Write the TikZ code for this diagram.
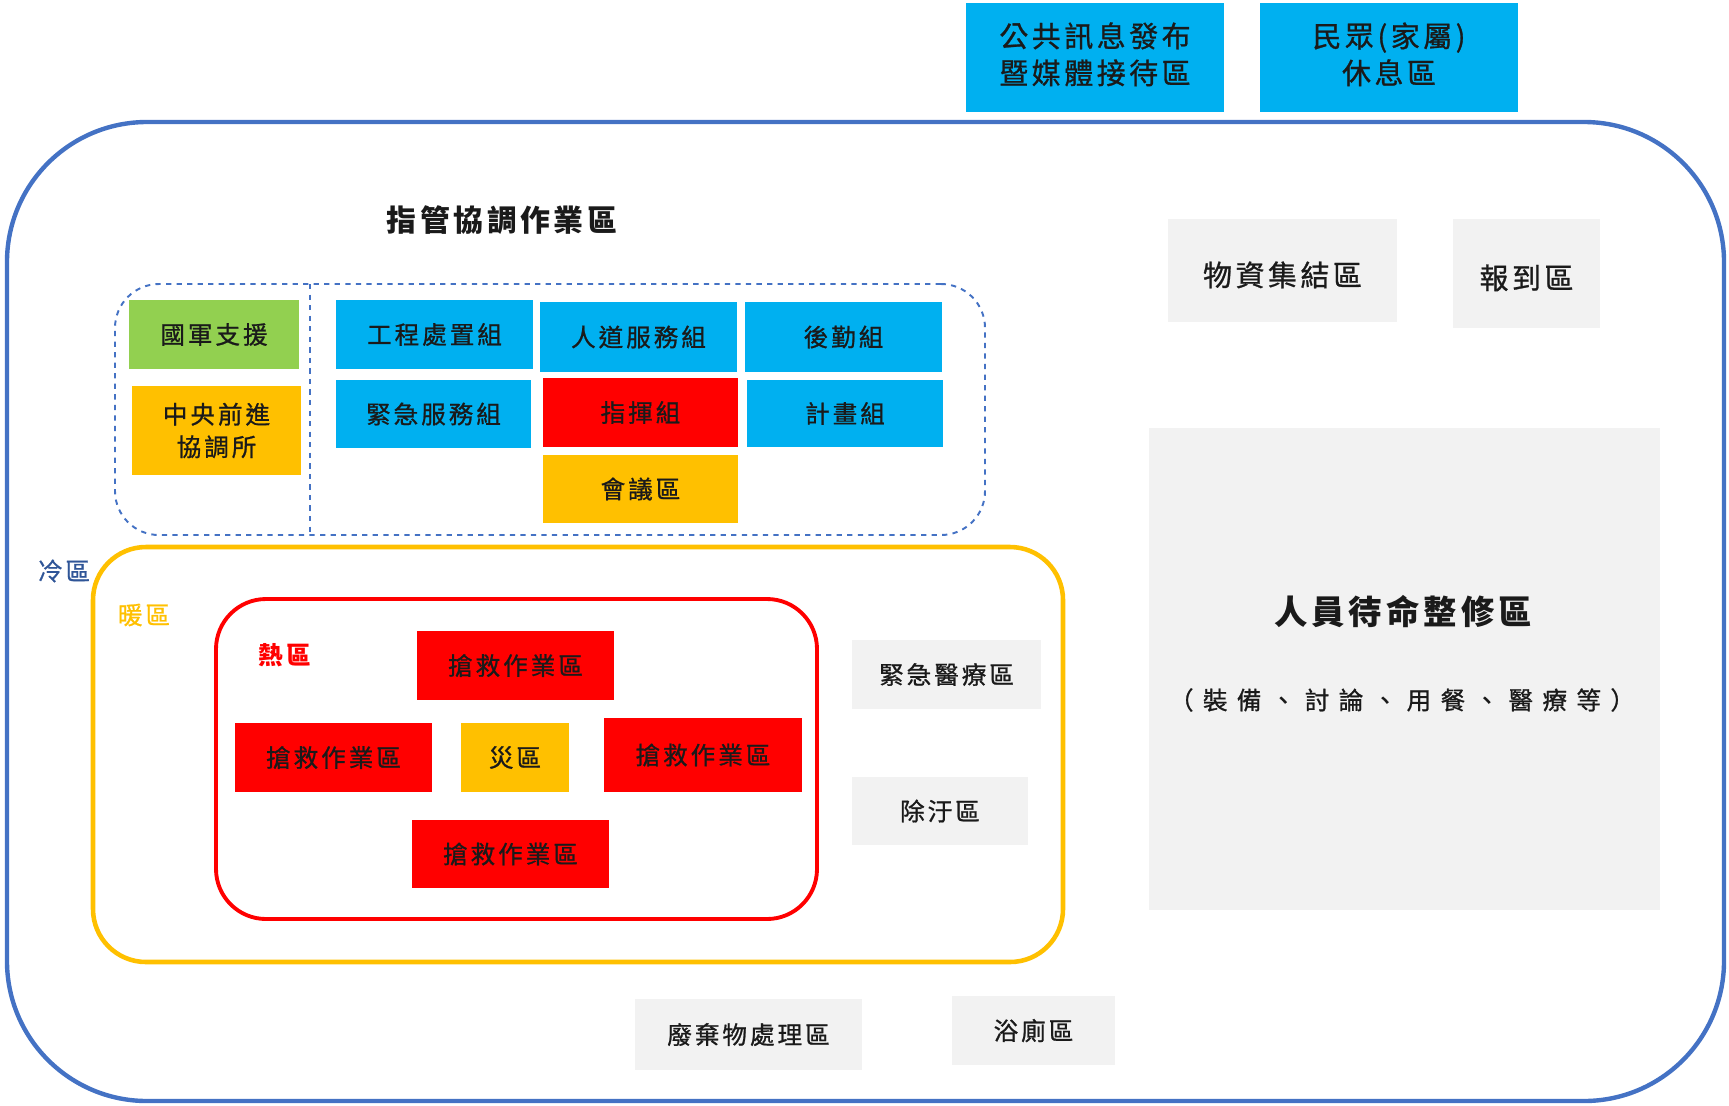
\documentclass[tikz,border=0pt]{standalone}
\usepackage{fontspec}
\setmainfont{Noto Sans CJK TC}[LetterSpace=12]
\newfontfamily\boxfont{Noto Sans CJK TC}[LetterSpace=12, FakeBold=0.9]
\usetikzlibrary{fit}
\definecolor{cblue}{HTML}{00B0F0}
\definecolor{cgreen}{HTML}{92D050}
\definecolor{corange}{HTML}{FFC000}
\definecolor{cred}{HTML}{FF0000}
\definecolor{cgray}{HTML}{F2F2F2}
\definecolor{frameblue}{HTML}{4472C4}
\definecolor{coldtxt}{HTML}{2F5597}
\definecolor{txt}{HTML}{1A1A1A}
\begin{document}
\begin{tikzpicture}[x=0.2mm,y=-0.2mm,
  box/.style={fill=#1, draw=none, inner sep=0pt},
  tx/.style={inner sep=0pt, text=txt, align=center, font=\boxfont\fontsize{14}{18.5}\selectfont},
  btx/.style={tx, font=\boxfont\fontsize{16.5}{21}\selectfont},
  zone/.style={draw=#1, inner sep=0pt, fill=none},
  lbl/.style={inner sep=0pt, font=\boxfont\fontsize{14}{17}\selectfont}
]
\useasboundingbox (0,0) rectangle (1729,1105);

% outer frame (cold zone)
\node[zone=frameblue, line width=2.5pt, rounded corners=28mm, fit={(7,122) (1724,1101)}] (cold) {};

% top boxes
\node[box=cblue, fit={(966,3) (1224,112)}, label={[btx, yshift=1.8pt]center:公共訊息發布\\暨媒體接待區}] (pub) {};
\node[box=cblue, fit={(1260,3) (1518,112)}, label={[btx, yshift=1.8pt]center:民眾(家屬)\\休息區}] (fam) {};

% title
\node[inner sep=0pt, font=\fontsize{17}{20}\selectfont\bfseries, text=txt] (title) at (502,220) {指管協調作業區};

% command area dashed
\node[zone=frameblue, line width=1.1pt, dashed, rounded corners=8.8mm, fit={(115,284) (985,535)}] (cmd) {};
\coordinate (divT) at (310,284);
\coordinate (divB) at (310,535);
\draw[frameblue, line width=1.1pt, dashed] (divT) -- (divB);

\node[box=cgreen, fit={(129,300) (299,369)}, label={[tx]center:國軍支援}] (army) {};
\node[box=corange, fit={(132,386) (301,475)}, label={[tx]center:中央前進\\協調所}] (central) {};
\node[box=cblue, fit={(336,300) (533,369)}, label={[tx]center:工程處置組}] (eng) {};
\node[box=cblue, fit={(540,302) (737,372)}, label={[tx]center:人道服務組}] (hum) {};
\node[box=cblue, fit={(745,302) (942,372)}, label={[tx]center:後勤組}] (log) {};
\node[box=cblue, fit={(336,380) (531,448)}, label={[tx]center:緊急服務組}] (emg) {};
\node[box=cred, fit={(543,378) (738,447)}, label={[tx]center:指揮組}] (cmdgrp) {};
\node[box=cblue, fit={(747,380) (943,447)}, label={[tx]center:計畫組}] (plan) {};
\node[box=corange, fit={(543,455) (738,523)}, label={[tx]center:會議區}] (meet) {};

% right side
\node[box=cgray, fit={(1168,219) (1397,322)}, label={[btx, yshift=-2.5pt]center:物資集結區}] (supply) {};
\node[box=cgray, fit={(1453,219) (1600,328)}, label={[btx, yshift=-2.5pt]center:報到區}] (report) {};
\node[box=cgray, fit={(1149,428) (1660,910)}] (staff) {};
\node[inner sep=0pt, font=\fontsize{19}{22}\selectfont\bfseries, text=txt] (stafft) at (1403,612) {人員待命整修區};
\node[inner sep=0pt, font=\boxfont\fontsize{14}{17}\selectfont\addfontfeatures{LetterSpace=38}, text=txt] (staffs) at (1402,700) {（裝備、討論、用餐、醫療等）};

% zone labels
\node[lbl, text=coldtxt] (coldlbl) at (64,571) {冷區};

% warm zone
\node[zone=corange, line width=2.6pt, rounded corners=10.6mm, fit={(93,547) (1063,962)}] (warm) {};
\node[lbl, text=corange] (warmlbl) at (144,615) {暖區};

% hot zone
\node[zone=cred, line width=2.2pt, rounded corners=10mm, fit={(216,599) (817,919)}] (hot) {};
\node[lbl, text=cred, font=\fontsize{14}{17}\selectfont\bfseries] (hotlbl) at (285,655) {熱區};

\node[box=cred, fit={(417,631) (614,700)}, label={[tx]center:搶救作業區}] (r1) {};
\node[box=cred, fit={(235,723) (432,792)}, label={[tx]center:搶救作業區}] (r2) {};
\node[box=corange, fit={(461,723) (569,792)}, label={[tx]center:災區}] (dis) {};
\node[box=cred, fit={(604,718) (802,792)}, label={[tx]center:搶救作業區}] (r3) {};
\node[box=cred, fit={(412,820) (609,888)}, label={[tx]center:搶救作業區}] (r4) {};

\node[box=cgray, fit={(852,640) (1041,709)}, label={[tx]center:緊急醫療區}] (med) {};
\node[box=cgray, fit={(852,777) (1028,845)}, label={[tx]center:除汙區}] (decon) {};
\node[box=cgray, fit={(635,999) (862,1070)}, label={[tx]center:廢棄物處理區}] (waste) {};
\node[box=cgray, fit={(952,996) (1115,1065)}, label={[tx]center:浴廁區}] (bath) {};
\end{tikzpicture}
\end{document}
